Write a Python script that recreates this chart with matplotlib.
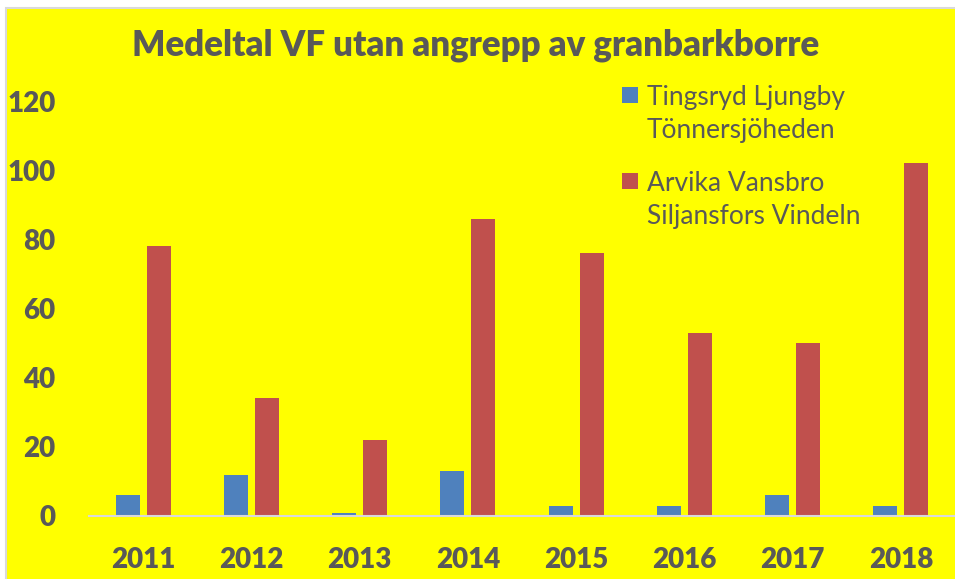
import matplotlib
matplotlib.use("Agg")
import matplotlib.pyplot as plt
from matplotlib.patches import Rectangle
import numpy as np

years = ["2011", "2012", "2013", "2014", "2015", "2016", "2017", "2018"]
series1_name = "Tingsryd Ljungby\nTönnersjöheden"
series2_name = "Arvika Vansbro\nSiljansfors Vindeln"
series1 = [6, 12, 1, 13, 3, 3, 6, 3]
series2 = [78, 34, 22, 86, 76, 53, 50, 102]
yticks = [0, 20, 40, 60, 80, 100, 120]
title = "Medeltal VF utan angrepp av granbarkborre"

plt.rcParams['font.family'] = ['Lato', 'DejaVu Sans']
W, H = 955, 579
fig = plt.figure(figsize=(W/100, H/100), dpi=100, facecolor='white')
fig.patches.append(Rectangle((6/W, -0.05), 1, 1.05 - 8/H, transform=fig.transFigure,
                             facecolor='#FFFF00', edgecolor='#D9D9D9', linewidth=1.5, zorder=0))

ax = fig.add_axes([89/W, (H-516)/H, (955-89)/W, (516-101)/H])
ax.set_zorder(2)
ax.set_facecolor('none')
x = np.arange(len(years))
w = 0.222
off = 0.143
c1, c2 = '#4F81BD', '#C0504D'
ax.bar(x - off, series1, w, color=c1)
ax.bar(x + off, series2, w, color=c2)
ax.set_xlim(-0.5, len(years) - 0.5)
ax.set_ylim(0, 120)
ax.set_yticks(yticks)
ax.set_xticks(x)
ax.set_xticklabels(years)
gray = '#595959'
ax.tick_params(axis='both', length=0, labelsize=20, labelcolor=gray)
ax.tick_params(axis='y', pad=24)
ax.tick_params(axis='x', pad=22)
for lab in ax.get_xticklabels() + ax.get_yticklabels():
    lab.set_fontweight('heavy')
for s in ['top', 'right', 'left']:
    ax.spines[s].set_visible(False)
ax.spines['bottom'].set_color('#D9D9D9')
ax.spines['bottom'].set_linewidth(1.5)

fig.text(476/W, 1 - 45/H, title, ha='center', va='center', fontsize=25,
         fontweight='heavy', color=gray, zorder=3)

# legend
for (ytop, name, col) in [(87, series1_name, c1), (173, series2_name, c2)]:
    fig.patches.append(Rectangle((622/W, 1 - (ytop+16)/H), 16/W, 16/H,
                                 transform=fig.transFigure, facecolor=col, edgecolor='none', zorder=3))
    fig.text(647/W, 1 - (ytop - 2)/H, name, ha='left', va='top', fontsize=19,
             color=gray, linespacing=1.4, zorder=3)

fig.savefig('out.png', dpi=100)
